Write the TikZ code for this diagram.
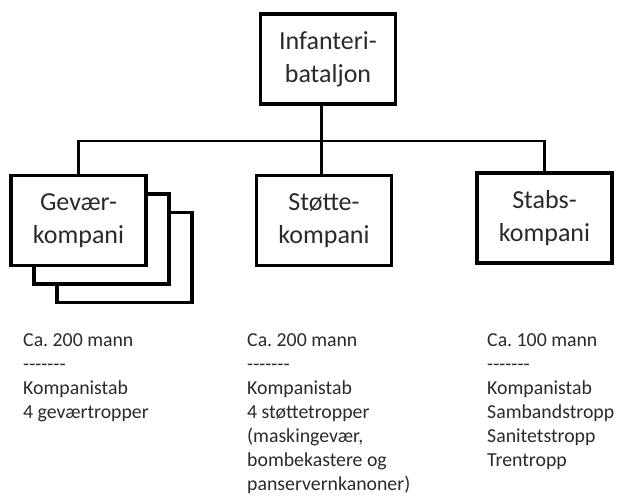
\documentclass[tikz,border=0pt]{standalone}
\usepackage{fontspec}
\setmainfont{Carlito}
\definecolor{txt}{HTML}{2A2A2A}
\frenchspacing
\begin{document}
\begin{tikzpicture}[x=1pt,y=-1pt,
  unit/.style={draw=black, line width=3.5pt, fill=white, minimum width=135pt,
    minimum height=90pt, inner sep=0pt, align=center,
    font=\fontsize{26}{33}\selectfont, text=txt},
  link/.style={line width=2.5pt},
  info/.style={anchor=north west, inner sep=0pt, align=left,
    font=\fontsize{19.8}{24}\selectfont\frenchspacing, text=txt}]
\useasboundingbox (0,0) rectangle (618,495);
% boxes
\node[unit] (bat) at (328,59) {Infanteri-\\bataljon};
\node[unit] (gev3) at (124.5,257.5) {};
\node[unit] (gev2) at (101.5,239) {};
\node[unit] (gev) at (78.5,220.5) {Gevær-\\kompani};
\node[unit] (stot) at (324,220.5) {Støtte-\\kompani};
\node[unit] (stab) at (544.5,218) {Stabs-\\kompani};
% connectors
\coordinate (j) at (321.5,141);
\draw[link] (bat.south -| j) -- (j);
\draw[link] (gev.north) |- (j) -| (stab.north);
\draw[link] (j) -- (stot.north -| j);
% info texts
\node[info] (i1) at (23,333) {Ca. 200 mann\\-{}-{}-{}-{}-{}-{}-\\Kompanistab\\4 geværtropper};
\node[info] (i2) at (247,333) {Ca. 200 mann\\-{}-{}-{}-{}-{}-{}-\\Kompanistab\\4 støttetropper\\(maskingevær,\\bombekastere og\\panservernkanoner)};
\node[info] (i3) at (487,333) {Ca. 100 mann\\-{}-{}-{}-{}-{}-{}-\\Kompanistab\\Sambandstropp\\Sanitetstropp\\Trentropp};
\end{tikzpicture}
\end{document}
